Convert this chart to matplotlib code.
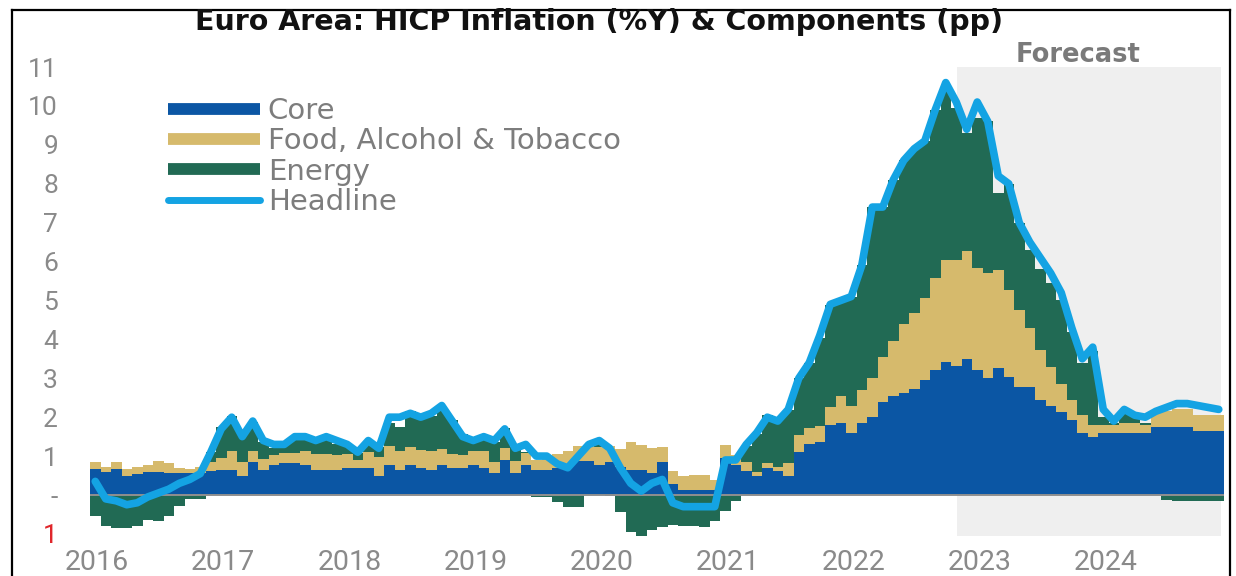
import matplotlib
matplotlib.use("Agg")
import matplotlib.pyplot as plt
from matplotlib.lines import Line2D
from matplotlib.patches import Rectangle
import numpy as np

# Monthly data, Jan 2016 - Dec 2024 (contributions in pp, headline in %Y)
years = ["2016", "2017", "2018", "2019", "2020", "2021", "2022", "2023", "2024"]

core = [
    0.68, 0.60, 0.68, 0.50, 0.55, 0.60, 0.60, 0.56, 0.56, 0.57, 0.57, 0.62,
    0.63, 0.63, 0.49, 0.84, 0.63, 0.77, 0.82, 0.82, 0.77, 0.63, 0.63, 0.63,
    0.70, 0.70, 0.70, 0.49, 0.78, 0.63, 0.76, 0.70, 0.63, 0.76, 0.70, 0.70,
    0.77, 0.70, 0.56, 0.91, 0.56, 0.77, 0.63, 0.63, 0.70, 0.77, 0.88, 0.88,
    0.78, 0.85, 0.71, 0.64, 0.64, 0.57, 0.85, 0.28, 0.14, 0.14, 0.14, 0.14,
    0.96, 0.76, 0.62, 0.48, 0.69, 0.62, 0.48, 1.10, 1.31, 1.37, 1.79, 1.85,
    1.59, 1.86, 2.00, 2.40, 2.55, 2.62, 2.72, 2.95, 3.22, 3.42, 3.32, 3.50,
    3.20, 3.00, 3.26, 3.03, 2.78, 2.78, 2.44, 2.30, 2.13, 1.93, 1.60, 1.50,
    1.60, 1.60, 1.60, 1.60, 1.60, 1.75, 1.75, 1.75, 1.75, 1.65, 1.65, 1.65,
]

food = [
    0.16, 0.12, 0.16, 0.16, 0.18, 0.18, 0.27, 0.25, 0.14, 0.10, 0.14, 0.24,
    0.33, 0.49, 0.35, 0.29, 0.29, 0.27, 0.27, 0.27, 0.37, 0.43, 0.43, 0.41,
    0.36, 0.19, 0.40, 0.49, 0.49, 0.51, 0.48, 0.46, 0.49, 0.42, 0.36, 0.34,
    0.35, 0.44, 0.29, 0.29, 0.31, 0.31, 0.27, 0.38, 0.36, 0.36, 0.38, 0.38,
    0.45, 0.41, 0.47, 0.71, 0.65, 0.63, 0.39, 0.33, 0.35, 0.37, 0.37, 0.25,
    0.33, 0.28, 0.24, 0.11, 0.13, 0.11, 0.35, 0.44, 0.41, 0.41, 0.48, 0.70,
    0.70, 0.84, 1.00, 1.15, 1.40, 1.78, 1.96, 2.12, 2.36, 2.62, 2.72, 2.76,
    2.64, 2.70, 2.52, 2.24, 1.97, 1.52, 1.29, 1.00, 0.72, 0.52, 0.45, 0.30,
    0.20, 0.20, 0.25, 0.25, 0.20, 0.35, 0.40, 0.45, 0.45, 0.40, 0.40, 0.40,
]

energy = [
    -0.53, -0.79, -0.85, -0.85, -0.79, -0.63, -0.66, -0.55, -0.29, -0.09, -0.11, 0.25,
    0.79, 0.90, 0.72, 0.74, 0.44, 0.18, 0.21, 0.39, 0.38, 0.29, 0.46, 0.28,
    0.21, 0.20, 0.19, 0.25, 0.59, 0.61, 0.91, 0.88, 0.91, 1.03, 0.87, 0.53,
    0.26, 0.35, 0.51, 0.51, 0.37, 0.02, -0.05, -0.06, -0.17, -0.30, -0.31, 0.02,
    0.19, -0.03, -0.44, -0.95, -1.05, -0.91, -0.82, -0.76, -0.80, -0.80, -0.81, -0.68,
    -0.40, -0.16, 0.41, 0.99, 1.24, 1.20, 1.36, 1.46, 1.67, 2.25, 2.61, 2.47,
    2.81, 3.20, 4.40, 3.85, 4.15, 4.20, 4.22, 4.03, 4.32, 4.42, 3.90, 3.04,
    3.86, 3.90, 1.97, 2.73, 2.25, 2.00, 2.07, 2.15, 2.15, 1.75, 1.35, 1.90,
    0.20, 0.05, 0.30, 0.15, 0.05, 0.00, -0.12, -0.15, -0.15, -0.15, -0.15, -0.15,
]

headline = [
    0.35, -0.10, -0.15, -0.25, -0.20, -0.05, 0.05, 0.15, 0.30, 0.40, 0.55, 1.10,
    1.70, 2.00, 1.50, 1.90, 1.40, 1.30, 1.30, 1.50, 1.50, 1.40, 1.50, 1.40,
    1.30, 1.10, 1.40, 1.20, 2.00, 2.00, 2.10, 2.00, 2.10, 2.30, 1.90, 1.50,
    1.40, 1.50, 1.40, 1.70, 1.20, 1.30, 1.00, 1.00, 0.80, 0.70, 1.00, 1.30,
    1.40, 1.20, 0.70, 0.30, 0.10, 0.30, 0.40, -0.20, -0.30, -0.30, -0.30, -0.30,
    0.90, 0.90, 1.30, 1.60, 2.00, 1.90, 2.20, 3.00, 3.40, 4.10, 4.90, 5.00,
    5.10, 5.90, 7.40, 7.40, 8.10, 8.60, 8.90, 9.10, 9.90, 10.60, 10.10, 9.40,
    10.10, 9.60, 8.20, 8.00, 7.00, 6.50, 6.10, 5.70, 5.20, 4.30, 3.50, 3.80,
    2.20, 1.90, 2.20, 2.05, 2.00, 2.15, 2.25, 2.35, 2.35, 2.30, 2.25, 2.20,
]

labels = ["Core", "Food, Alcohol & Tobacco", "Energy", "Headline"]

CORE_C = "#0b56a4"
FOOD_C = "#d6ba6c"
ENERGY_C = "#216a54"
HEAD_C = "#14a3e3"
SHADE_C = "#efefef"
TICK_C = "#8a8a8a"

plt.rcParams["font.family"] = ["Roboto", "DejaVu Sans"]

W, H = 1236, 576
fig = plt.figure(figsize=(W / 100, H / 100), dpi=100)
ax = fig.add_axes([90 / W, 31 / H, 1134 / W, 485 / H])

n = len(core)
x = np.arange(n)
c = np.array(core)
f = np.array(food)
e = np.array(energy)

# forecast shading
ax.add_patch(Rectangle((82.1, -1.05), 107.2 - 82.1, 12.05, facecolor=SHADE_C,
                       edgecolor="none", zorder=0))

# stacked contributions
bar_kw = dict(width=1.0, linewidth=0, antialiased=False, zorder=2)
ax.bar(x, c, color=CORE_C, **bar_kw)
ax.bar(x, f, bottom=c, color=FOOD_C, **bar_kw)
e_bottom = np.where(e > 0, c + f, 0.0)
ax.bar(x, e, bottom=e_bottom, color=ENERGY_C, **bar_kw)

ax.axhline(0, color="#8f8f8f", lw=1.4, zorder=3)

# headline line
ax.plot(x, headline, color=HEAD_C, lw=5.5, solid_joinstyle="round",
        solid_capstyle="round", zorder=4)

ax.set_xlim(-0.5, n - 0.5)
ax.set_ylim(-1.285, 11.18)

for s in ax.spines.values():
    s.set_visible(False)

yt = list(range(-1, 12))
ylabels = [str(abs(v)) if v != 0 else "-" for v in yt]
ax.set_yticks(yt)
ax.set_yticklabels(ylabels)
ax.tick_params(axis="y", length=0, pad=23, labelsize=19, labelcolor=TICK_C)
ax.get_yticklabels()[0].set_color("#e0262b")

ax.set_xticks(np.arange(0, n, 12) + 0.2)
ax.set_xticklabels(years)
ax.tick_params(axis="x", length=0, pad=3, labelsize=20.5, labelcolor=TICK_C)

# legend
handles = [
    Line2D([], [], color=CORE_C, lw=8.5, solid_capstyle="butt"),
    Line2D([], [], color=FOOD_C, lw=8.5, solid_capstyle="butt"),
    Line2D([], [], color=ENERGY_C, lw=8.5, solid_capstyle="butt"),
    Line2D([], [], color=HEAD_C, lw=5, solid_capstyle="round"),
]
leg = ax.legend(handles, labels, loc="upper left",
                bbox_to_anchor=(168 / W, 1 - 97 / H), bbox_transform=fig.transFigure,
                frameon=False, prop={"family": "DejaVu Sans", "size": 21},
                handlelength=3.15, handletextpad=0.27,
                labelspacing=0.08, borderpad=0, borderaxespad=0)
for t in leg.get_texts():
    t.set_color("#7d7d7d")

# titles
fig.text(599 / W, 1 - 22 / H, "Euro Area: HICP Inflation (%Y) & Components (pp)",
         ha="center", va="center", fontsize=20.5, fontweight="bold",
         family="DejaVu Sans", color="#111111")
fig.text(1078 / W, 1 - 55 / H, "Forecast", ha="center", va="center",
         fontsize=18.5, fontweight="bold", family="DejaVu Sans", color="#7a7a7a")

# frame around the figure
for xs, ys in [([12, 12], [576, 10]), ([12, 1230], [10, 10]), ([1230, 1230], [10, 576])]:
    fig.add_artist(Line2D([v / W for v in xs], [1 - v / H for v in ys],
                          transform=fig.transFigure, color="black", lw=1.6))

fig.savefig("out.png", dpi=100)
